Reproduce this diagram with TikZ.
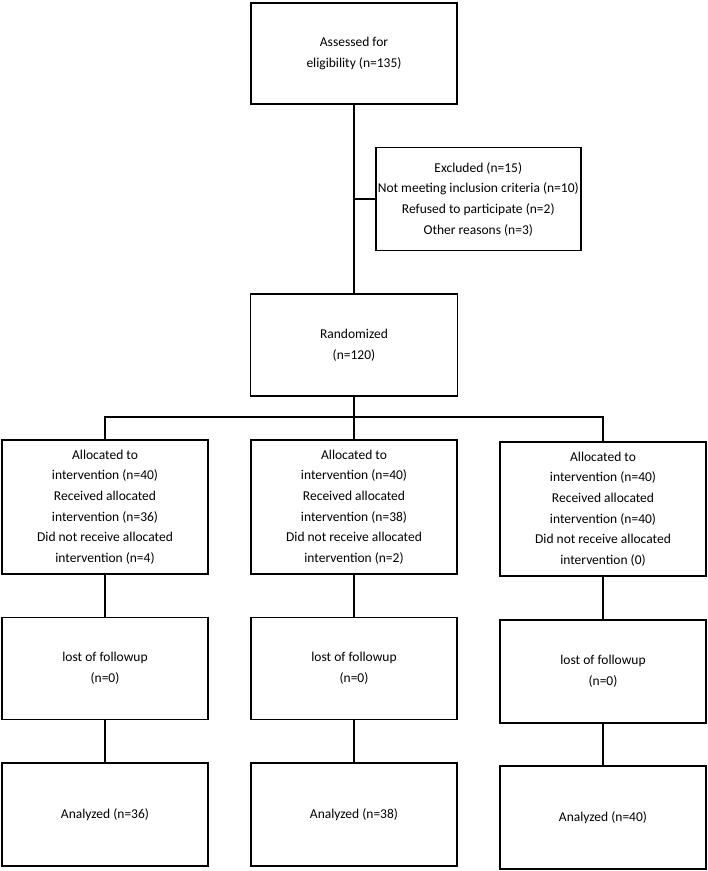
\documentclass[tikz,border=0pt]{standalone}
\usepackage{fontspec}
\setmainfont{Carlito}
\begin{document}
\begin{tikzpicture}[x=1pt,y=-1pt,
  box/.style={draw, line width=1.5pt, align=center, inner sep=0pt,
    font=\fontsize{13.5}{20.6}\selectfont},
  link/.style={line width=1.5pt}]
\useasboundingbox (0,0) rectangle (708,871);
\node[box, minimum width=206pt, minimum height=101pt] (assess) at (354,53.5) {Assessed for\\eligibility (n=135)};
\node[box, minimum width=205pt, minimum height=103pt] (excl) at (478.3,199.2) {Excluded (n=15)\\Not meeting inclusion criteria (n=10)\\Refused to participate (n=2)\\Other reasons (n=3)};
\node[box, minimum width=207pt, minimum height=102pt] (rand) at (354,345) {Randomized\\(n=120)};
\node[box, minimum width=206pt, minimum height=134pt] (a1) at (105,507) {Allocated to\\intervention (n=40)\\Received allocated\\intervention (n=36)\\Did not receive allocated\\intervention (n=4)};
\node[box, minimum width=206pt, minimum height=134pt] (a2) at (354,507) {Allocated to\\intervention (n=40)\\Received allocated\\intervention (n=38)\\Did not receive allocated\\intervention (n=2)};
\node[box, minimum width=206pt, minimum height=134pt] (a3) at (603,509) {Allocated to\\intervention (n=40)\\Received allocated\\intervention (n=40)\\Did not receive allocated\\intervention (0)};
\node[box, minimum width=206pt, minimum height=102pt] (l1) at (105,668.3) {lost of followup\\(n=0)};
\node[box, minimum width=206pt, minimum height=102pt] (l2) at (354,668.3) {lost of followup\\(n=0)};
\node[box, minimum width=206pt, minimum height=103pt] (l3) at (603,671.5) {lost of followup\\(n=0)};
\node[box, minimum width=206pt, minimum height=103pt] (n1) at (105,814.3) {Analyzed (n=36)};
\node[box, minimum width=206pt, minimum height=103pt] (n2) at (354,814.6) {Analyzed (n=38)};
\node[box, minimum width=206pt, minimum height=103pt] (n3) at (603,817.3) {Analyzed (n=40)};
\coordinate (br) at (354,417);
\draw[link] (assess.south) -- (rand.north);
\draw[link] (excl.west) -- (excl.west -| assess.south);
\draw[link] (rand.south) -- (a2.north);
\draw[link] (a1.north) -- (a1.north |- br) -- (a3.north |- br) -- (a3.north);
\draw[link] (a1.south) -- (l1.north);
\draw[link] (a2.south) -- (l2.north);
\draw[link] (a3.south) -- (l3.north);
\draw[link] (l1.south) -- (n1.north);
\draw[link] (l2.south) -- (n2.north);
\draw[link] (l3.south) -- (n3.north);
\end{tikzpicture}
\end{document}
